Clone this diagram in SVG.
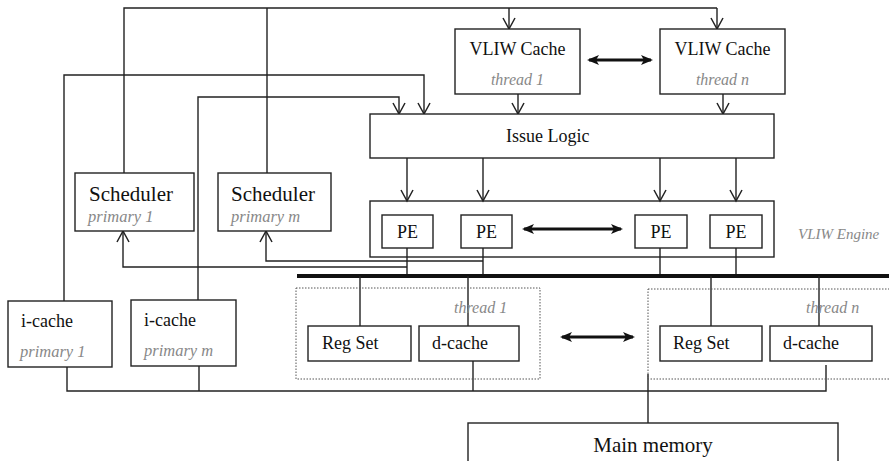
<svg xmlns="http://www.w3.org/2000/svg" width="889" height="461" viewBox="0 0 889 461">
<style>
.box{fill:#fff;stroke:#222;stroke-width:1.4}
.frame{fill:none;stroke:#222;stroke-width:1.4}
.dot{fill:none;stroke:#555;stroke-width:1;stroke-dasharray:1.5 1.5}
.ln{fill:none;stroke:#222;stroke-width:1.4}
.arr{fill:none;stroke:#222;stroke-width:1.4;marker-end:url(#open)}
.dbl{fill:none;stroke:#111;stroke-width:3;marker-start:url(#fill);marker-end:url(#fill)}
.t{font-family:"Liberation Serif","Times New Roman",serif;fill:#111}
.g{font-family:"Liberation Serif","Times New Roman",serif;font-style:italic;fill:#888}
</style>
<defs>
<marker id="open" markerUnits="userSpaceOnUse" markerWidth="14" markerHeight="14" viewBox="-1 -1 14 14" refX="11" refY="6" orient="auto">
<path d="M0,0 L11,6 L0,12" fill="none" stroke="#222" stroke-width="1.5"/>
</marker>
<marker id="fill" markerUnits="userSpaceOnUse" markerWidth="12" markerHeight="12" viewBox="0 0 12 12" refX="10" refY="6" orient="auto-start-reverse">
<path d="M0,1 L12,6 L0,11 L3,6 Z" fill="#111"/>
</marker>
</defs>

<g id="vliw-engine">
<rect class="frame" x="370" y="201" width="404" height="56"/>
<text class="g" x="798" y="239" font-size="15">VLIW Engine</text>
</g>

<g id="connectors">
<!-- top feeds from schedulers to VLIW caches -->
<polyline class="ln" points="124,173 124,8 717,8"/>
<line class="ln" x1="267" y1="8" x2="267" y2="173"/>
<line class="arr" x1="509" y1="8" x2="509" y2="29"/>
<line class="arr" x1="717" y1="8" x2="717" y2="29"/>
<!-- i-cache feeds to issue logic -->
<polyline class="arr" points="64,301 64,75 424,75 424,114"/>
<polyline class="arr" points="198,300 198,97 399,97 399,114"/>
<!-- VLIW cache to issue logic -->
<line class="arr" x1="518" y1="94" x2="518" y2="114"/>
<line class="arr" x1="723" y1="94" x2="723" y2="114"/>
<line class="dbl" x1="589" y1="60" x2="651" y2="60"/>
<!-- issue logic to engine -->
<line class="arr" x1="407" y1="158" x2="407" y2="201"/>
<line class="arr" x1="483" y1="158" x2="483" y2="201"/>
<line class="arr" x1="660" y1="158" x2="660" y2="201"/>
<line class="arr" x1="736" y1="158" x2="736" y2="201"/>
<!-- PE to bus -->
<line class="ln" x1="407" y1="248" x2="407" y2="276"/>
<line class="ln" x1="483" y1="248" x2="483" y2="276"/>
<line class="ln" x1="660" y1="248" x2="660" y2="276"/>
<line class="ln" x1="736" y1="248" x2="736" y2="276"/>
<line class="dbl" x1="524" y1="229" x2="621" y2="229"/>
<!-- PE to schedulers -->
<polyline class="arr" points="407,267 123,267 123,231"/>
<polyline class="arr" points="483,261 266,261 266,231"/>
<!-- bus -->
<line x1="297" y1="276" x2="889" y2="276" stroke="#111" stroke-width="4"/>
<!-- bus to reg sets / d-caches -->
<line class="ln" x1="360" y1="276" x2="360" y2="326"/>
<line class="ln" x1="468" y1="276" x2="468" y2="326" stroke="#555"/>
<line class="ln" x1="711" y1="276" x2="711" y2="326"/>
<line class="ln" x1="819" y1="276" x2="819" y2="326"/>
<line class="dbl" x1="562" y1="337" x2="633" y2="337"/>
<!-- memory bus -->
<polyline class="ln" points="67,367 67,391 826,391 826,365"/>
<line class="ln" x1="199" y1="366" x2="199" y2="391"/>
<line class="ln" x1="473" y1="361" x2="473" y2="391"/>
<line class="ln" x1="648" y1="374" x2="648" y2="423"/>
</g>

<g id="vliw-cache-1">
<rect class="box" x="455" y="29" width="125" height="65"/>
<text class="t" x="517.5" y="55" font-size="18" text-anchor="middle">VLIW Cache</text>
<text class="g" x="517.5" y="85" font-size="16" text-anchor="middle">thread 1</text>
</g>
<g id="vliw-cache-n">
<rect class="box" x="660" y="29" width="125" height="65"/>
<text class="t" x="722.5" y="55" font-size="18" text-anchor="middle">VLIW Cache</text>
<text class="g" x="722.5" y="85" font-size="16" text-anchor="middle">thread n</text>
</g>
<g id="issue-logic">
<rect class="box" x="370" y="114" width="404" height="44"/>
<text class="t" x="506" y="142" font-size="18">Issue Logic</text>
</g>
<g id="scheduler-1">
<rect class="box" x="75" y="173" width="119" height="58"/>
<text class="t" x="89" y="201" font-size="21">Scheduler</text>
<text class="g" x="88" y="222" font-size="16.5">primary 1</text>
</g>
<g id="scheduler-m">
<rect class="box" x="218" y="173" width="113" height="58"/>
<text class="t" x="231" y="201" font-size="21">Scheduler</text>
<text class="g" x="231" y="222" font-size="16.5">primary m</text>
</g>
<g id="pe-1">
<rect class="box" x="382" y="215" width="51" height="33"/>
<text class="t" x="407.5" y="238" font-size="18" text-anchor="middle">PE</text>
</g>
<g id="pe-2">
<rect class="box" x="461" y="215" width="51" height="33"/>
<text class="t" x="486.5" y="238" font-size="18" text-anchor="middle">PE</text>
</g>
<g id="pe-3">
<rect class="box" x="635" y="215" width="52" height="33"/>
<text class="t" x="661" y="238" font-size="18" text-anchor="middle">PE</text>
</g>
<g id="pe-4">
<rect class="box" x="710" y="215" width="52" height="33"/>
<text class="t" x="736" y="238" font-size="18" text-anchor="middle">PE</text>
</g>
<g id="thread-1">
<rect class="dot" x="296" y="288" width="244" height="91"/>
<text class="g" x="454" y="313" font-size="16">thread 1</text>
</g>
<g id="thread-n">
<rect class="dot" x="648" y="289" width="260" height="90"/>
<text class="g" x="806" y="313" font-size="16">thread n</text>
</g>
<g id="regset-1">
<rect class="box" x="308" y="326" width="103" height="35"/>
<text class="t" x="322" y="349" font-size="18">Reg Set</text>
</g>
<g id="dcache-1">
<rect class="box" x="419" y="326" width="100" height="35"/>
<text class="t" x="432" y="349" font-size="18">d-cache</text>
</g>
<g id="regset-n">
<rect class="box" x="660" y="326" width="102" height="35"/>
<text class="t" x="673" y="349" font-size="18">Reg Set</text>
</g>
<g id="dcache-n">
<rect class="box" x="770" y="326" width="102" height="35"/>
<text class="t" x="783" y="349" font-size="18">d-cache</text>
</g>
<g id="icache-1">
<rect class="box" x="8" y="301" width="104" height="66"/>
<text class="t" x="21" y="327" font-size="18">i-cache</text>
<text class="g" x="20" y="357" font-size="16.5">primary 1</text>
</g>
<g id="icache-m">
<rect class="box" x="131" y="300" width="105" height="66"/>
<text class="t" x="144" y="326" font-size="18">i-cache</text>
<text class="g" x="144" y="356" font-size="16.5">primary m</text>
</g>
<g id="main-memory">
<rect class="box" x="468" y="423" width="370" height="50"/>
<text class="t" x="653" y="452" font-size="21" text-anchor="middle">Main memory</text>
</g>
</svg>
